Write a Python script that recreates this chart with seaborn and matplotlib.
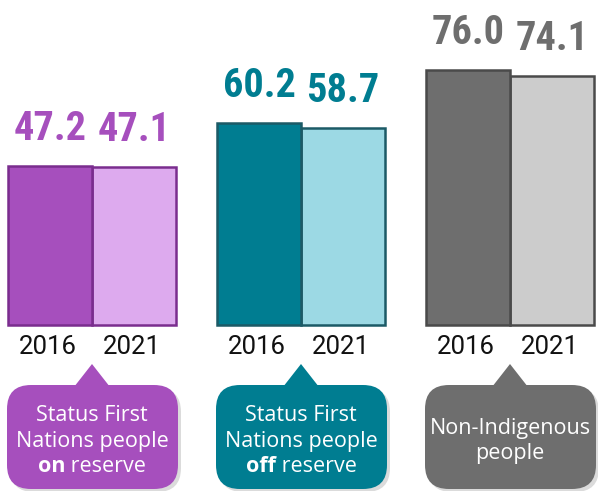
import pandas as pd
import matplotlib.pyplot as plt
import seaborn as sns
from matplotlib.patches import FancyBboxPatch, Polygon

groups = ["on", "off", "non"]
years = ["2016", "2021"]
values_2016 = [47.2, 60.2, 76.0]
values_2021 = [47.1, 58.7, 74.1]
group_labels = [
    ["Status First", "Nations people", "on reserve"],
    ["Status First", "Nations people", "off reserve"],
    ["Non-Indigenous", "people"],
]
bold_words = ["on", "off", None]

dark = ["#a64fbd", "#007d91", "#6e6e6e"]
light = ["#ddaaee", "#9cd9e4", "#cccccc"]
edges = ["#7a2d8e", "#1c5a66", "#4a4a4a"]

data = pd.DataFrame({
    "group": groups * 2,
    "year": [years[0]] * 3 + [years[1]] * 3,
    "value": values_2016 + values_2021,
})

sns.set_theme(style="white")
plt.rcParams['font.family'] = ['Roboto', 'DejaVu Sans']

fig = plt.figure(figsize=(5.98, 4.91), dpi=100)
ax = fig.add_axes([0, 0, 1, 1])
sns.barplot(data=data, x="group", y="value", hue="year", order=groups,
            hue_order=years, width=0.8, ax=ax, legend=False)

# pixel geometry: baseline at y=325 px, 3.36 px / unit, 209 px / group
ax.set_xlim(-92 / 209, (598 - 92) / 209)
ax.set_ylim(-166 / 3.36, 325 / 3.36)
ax.axis("off")

for j, cont in enumerate(ax.containers):
    for i, bar in enumerate(cont.patches):
        bar.set_facecolor(dark[i] if j == 0 else light[i])
        bar.set_edgecolor(edges[i])
        bar.set_linewidth(1.8)
        bar.set_zorder(3 if j == 0 else 2)
        val = bar.get_height()
        ax.annotate(f"{val:.1f}", (bar.get_x() + bar.get_width() / 2, val),
                    xytext=(0, 37), textcoords="offset pixels",
                    ha="center", va="center", color=dark[i], fontsize=29,
                    fontweight="bold", fontstretch="condensed",
                    family=["Roboto Condensed", "DejaVu Sans"])
        ax.annotate(years[j], (bar.get_x() + bar.get_width() / 2, 0),
                    xytext=(-2, -22), textcoords="offset pixels",
                    ha="center", va="center", color="#111111", fontsize=18.5)

# callouts in pixel space
ov = fig.add_axes([0, 0, 1, 1], zorder=5)
ov.set_xlim(0, 598)
ov.set_ylim(491, 0)
ov.axis("off")
ov.patch.set_alpha(0)

fs = 15.5
for i, g in enumerate(groups):
    cx = ax.transData.transform((i, 0))[0]
    left, right = cx - 85, cx + 86
    top, bottom = 385, 489
    for dx, col, al in [(3, "#999999", 0.35), (0, dark[i], 1.0)]:
        box = FancyBboxPatch((left + dx, top + dx), right - left, bottom - top,
                             boxstyle="round,pad=0,rounding_size=24",
                             facecolor=col, edgecolor="none", alpha=al,
                             zorder=1 if dx else 2)
        ov.add_patch(box)
    tri = Polygon([(cx - 18, top + 2), (cx, 364), (cx + 18, top + 2)],
                  closed=True, facecolor=dark[i], edgecolor="none", zorder=2)
    ov.add_patch(tri)

    lines = group_labels[i]
    n = len(lines)
    cy = (top + bottom) / 2 + 4
    step = 25.5
    for k, line in enumerate(lines):
        y = cy + (k - (n - 1) / 2) * step
        bw = bold_words[i]
        if bw and line.startswith(bw + " "):
            rest = line[len(bw):]
            t1 = ov.text(cx, y, bw, ha="right", va="center", color="white",
                         fontsize=fs, fontweight="bold", family=["Open Sans"], zorder=3)
            fig.canvas.draw()
            w1 = t1.get_window_extent().width
            t2 = ov.text(cx, y, rest, ha="left", va="center", color="white",
                         fontsize=fs, family=["Open Sans"], zorder=3)
            w2 = t2.get_window_extent().width
            shift = (w1 - w2) / 2
            t1.set_x(cx + shift)
            t2.set_x(cx + shift)
        else:
            ov.text(cx, y, line, ha="center", va="center", color="white",
                    fontsize=fs, family=["Open Sans"], zorder=3)

fig.savefig("out.png", dpi=100)
